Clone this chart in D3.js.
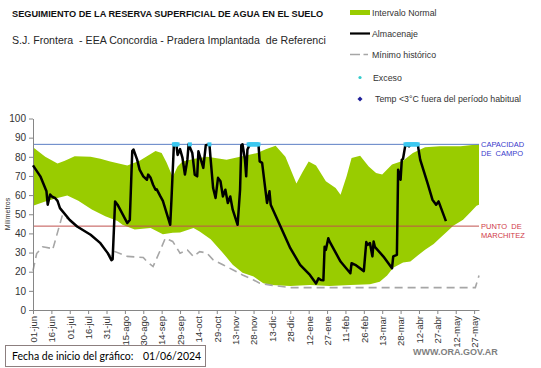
<!DOCTYPE html>
<html>
<head>
<meta charset="utf-8">
<script src="https://cdn.jsdelivr.net/npm/d3@7"></script>
<style>
  body { margin: 0; background: #fff; }
  svg { display: block; font-family: "Liberation Sans", Arial, sans-serif; }
  .axis path, .axis line { stroke: #868686; }
  .axis text { fill: #333; font-family: "Liberation Sans", Arial, sans-serif; }
  text { white-space: pre; }
</style>
</head>
<body>
<svg id="chart"></svg>
<script>
// x axis labels, one every 15 days starting 01/06/2024
const xTickLabels = ['01-jun','16-jun','01-jul','16-jul','31-jul','15-ago','30-ago','14-sep','29-sep',
  '14-oct','29-oct','13-nov','28-nov','13-dic','28-dic','12-ene','27-ene','11-feb','26-feb',
  '13-mar','28-mar','12-abr','27-abr','12-may','27-may'];
const yTicks = [0, 10, 20, 30, 40, 50, 60, 70, 80, 90, 100];

// soil water storage (mm) - days since 01-jun
const almDays = [0, 6, 11, 12, 14, 16, 18, 20, 22, 30, 36, 47, 55, 61, 64, 65, 67, 69, 77, 79, 81, 82, 85, 87, 90, 93, 94, 96,
  98, 100, 101, 104, 106, 112, 113, 115, 117, 118, 120, 122, 124, 126, 127, 130, 132, 134, 135, 137, 139, 141, 144,
  145, 147, 149, 151, 153, 155, 157, 159, 161, 163, 167, 169, 170, 171, 173, 174, 175, 177, 184, 185, 187, 189, 191,
  193, 194, 202, 210, 218, 226, 231, 233, 235, 237, 238, 239, 241, 242, 251, 259, 260, 263, 270, 272, 273, 275, 277,
  278, 279, 286, 293, 294, 297, 298, 300, 301, 302, 304, 307, 308, 314, 316, 322, 326, 329, 331, 337];
const almVals = [75.5, 69.8, 62, 55, 60.3, 59, 58.5, 57, 53.2, 47, 43.6, 39.3, 34.9, 29.7, 26, 26.5, 56.7, 55, 45.4, 47, 83,
  83.8, 78.5, 73.3, 69.8, 68, 70.7, 69, 65.4, 62.8, 63, 59.3, 57, 44.5, 57.6, 86.5, 86.5, 81, 84, 79.4, 70.7, 78.5,
  86.5, 82, 70.7, 69.8, 82.9, 78.5, 74.2, 86, 86.5, 78.5, 63.7, 58.5, 69, 67.2, 59.3, 62.8, 55.9, 59.3, 52.4, 44.5,
  62.8, 86, 86.5, 78.5, 69.8, 83.8, 86.5, 86.5, 77.6, 76.8, 66.3, 55.9, 62, 55, 43.6, 32.3, 23.6, 18.3, 13.8, 16.5,
  15.7, 15.5, 33, 31.4, 37.5, 35.8, 25.3, 19.2, 24.4, 23.6, 20.3, 35.5, 34, 35, 28, 35.8, 33, 27.9, 21.8, 28, 28.8,
  73.3, 68, 78.5, 79, 86.5, 85.5, 86.5, 86.5, 78.5, 66.3, 57.6, 55, 56.7, 46.4];

// normal interval, upper edge
const normHiDays = [0, 10, 20, 26, 34, 47, 55, 63, 77, 87, 100, 105, 109, 114, 118, 122, 132, 142, 158, 169, 183, 190,
  198, 206, 215, 220, 225, 231, 239, 247, 251, 256, 260, 267, 274, 280, 285, 293, 302, 310, 320, 332, 349, 364];
const normHiVals = [85, 80, 76.5, 78, 80.3, 80, 79, 77.5, 75.5, 78, 83, 82, 77, 69.5, 75, 77.6, 79, 80, 78.5, 80, 82, 84,
  85.8, 80, 66, 72, 77.6, 75.5, 67.2, 63.7, 60.2, 70, 79.4, 80.5, 75, 71.6, 70.7, 76, 78, 82, 85, 85.5, 85.5, 86.5];

// normal interval, lower edge
const normLoDays = [0, 10, 20, 28, 37, 48, 59, 69, 73, 83, 96, 106, 114, 120, 131, 136, 145, 155, 163, 171, 180, 184,
  188, 194, 210, 226, 242, 259, 275, 283, 289, 294, 302, 308, 314, 320, 327, 332, 338, 343, 351, 357, 362, 364];
const normLoVals = [54.5, 56.7, 58.5, 59.8, 57, 52.5, 49, 46.5, 44.5, 42, 42.8, 39.5, 40.4, 40.5, 42.8, 41, 37, 29.8,
  23.6, 19.5, 17.5, 15.7, 14, 13, 12.5, 13, 12.5, 13, 13.5, 14.8, 18, 22, 24.8, 25.3, 28.5, 31.4, 34.5, 37.5, 41, 44,
  47.1, 51, 54.5, 55];

// historical minimum
const minDays = [0, 3, 8, 14, 16, 24, 30, 36, 47, 55, 61, 64, 67, 77, 90, 93, 98, 104, 108, 114, 120, 126, 131, 136,
  142, 147, 155, 163, 171, 180, 185, 194, 210, 361, 364];
const minVals = [20.5, 29.5, 33, 32.3, 31.4, 49.5, 47, 43.6, 39.3, 34.9, 29.7, 28, 30.5, 28, 27.4, 25.3, 22.7, 31.4,
  37.5, 35.8, 29.7, 31.4, 27.9, 30.5, 29.7, 26.2, 23.6, 21, 18.3, 15.7, 14, 13, 11.7, 11.7, 18];

// days with excess water
const excesoDays = [115, 116, 117, 118, 128, 144, 176, 177, 178, 179, 180, 181, 182, 183, 184,
  304, 305, 306, 307, 308, 309, 310, 311, 312, 313, 314];

const capacidadCampo = 86.5;
const puntoMarchitez = 43.8;

class ReservaChart {

  /**
   * Basic config for the chart
   */
  constructor(_config) {
    this.config = {
      parentElement: _config.parentElement,
      containerWidth: _config.containerWidth || 541,
      containerHeight: _config.containerHeight || 368,
      margin: _config.margin || {top: 118.5, right: 62, bottom: 58, left: 33}
    };
    this.initVis();
  }

  initVis() {
    let vis = this;
    const m = vis.config.margin;
    vis.width = vis.config.containerWidth - m.left - m.right;
    vis.height = vis.config.containerHeight - m.top - m.bottom;

    vis.xScale = d3.scaleLinear().domain([0, 364]).range([0, vis.width]);
    vis.yScale = d3.scaleLinear().domain([0, 100]).range([vis.height, 0]);

    vis.xAxis = d3.axisBottom(vis.xScale)
        .tickValues(xTickLabels.map((_, i) => i * 15))
        .tickFormat((d, i) => xTickLabels[i])
        .tickSize(4)
        .tickSizeOuter(0);

    vis.yAxis = d3.axisLeft(vis.yScale)
        .tickValues(yTicks)
        .tickSize(4)
        .tickPadding(3)
        .tickSizeOuter(0);

    vis.svg = d3.select(vis.config.parentElement)
        .attr('width', vis.config.containerWidth)
        .attr('height', vis.config.containerHeight);

    vis.chart = vis.svg.append('g')
        .attr('transform', `translate(${m.left},${m.top})`);
  }

  renderVis() {
    let vis = this;
    const x = vis.xScale, y = vis.yScale;

    // normal interval band: upper edge forward, lower edge back
    const band = normHiDays.map((d, i) => [d, normHiVals[i]])
        .concat(normLoDays.map((d, i) => [d, normLoVals[i]]).reverse());
    vis.chart.append('path')
        .attr('d', d3.line().x(d => x(d[0])).y(d => y(d[1]))(band) + 'Z')
        .attr('fill', '#99cc00');

    // historical minimum
    vis.chart.append('path')
        .datum(minDays.map((d, i) => [d, minVals[i]]))
        .attr('d', d3.line().x(d => x(d[0])).y(d => y(d[1])))
        .attr('fill', 'none')
        .attr('stroke', '#a6a6a6')
        .attr('stroke-width', 1.6)
        .attr('stroke-dasharray', '8,5');

    // reference lines
    vis.chart.append('line')
        .attr('x1', 0).attr('x2', vis.width)
        .attr('y1', y(capacidadCampo)).attr('y2', y(capacidadCampo))
        .attr('stroke', '#5b7fc4').attr('stroke-width', 1);
    vis.chart.append('line')
        .attr('x1', 0).attr('x2', vis.width)
        .attr('y1', y(puntoMarchitez)).attr('y2', y(puntoMarchitez))
        .attr('stroke', '#c0504d').attr('stroke-width', 1);

    // axes
    vis.chart.append('g')
        .attr('class', 'axis x-axis')
        .attr('transform', `translate(0,${vis.height})`)
        .call(vis.xAxis)
        .selectAll('text')
          .attr('transform', 'rotate(-90)')
          .attr('text-anchor', 'end')
          .attr('x', -6)
          .attr('y', 0)
          .attr('dy', '0.35em')
          .style('font-size', '9.5px');

    vis.chart.append('g')
        .attr('class', 'axis y-axis')
        .call(vis.yAxis)
        .selectAll('text')
          .style('font-size', '10px');

    // storage line
    vis.chart.append('path')
        .datum(almDays.map((d, i) => [d, almVals[i]]))
        .attr('d', d3.line().x(d => x(d[0])).y(d => y(d[1])))
        .attr('fill', 'none')
        .attr('stroke', '#000')
        .attr('stroke-width', 2.5)
        .attr('stroke-linejoin', 'round');

    // excess markers
    vis.chart.selectAll('.exceso')
        .data(excesoDays)
        .join('rect')
        .attr('class', 'exceso')
        .attr('x', d => x(d) - 2)
        .attr('y', y(capacidadCampo) - 2)
        .attr('width', 4)
        .attr('height', 4)
        .attr('fill', '#3cc8f0');

    // line labels on the right
    const lx = vis.width + 2;
    const cap = vis.chart.append('text')
        .attr('x', lx).attr('y', y(capacidadCampo) + 3)
        .attr('fill', '#3a3acb')
        .style('font-size', '7.5px');
    cap.append('tspan').attr('x', lx).text('CAPACIDAD');
    cap.append('tspan').attr('x', lx).attr('dy', 9).text('DE  CAMPO');

    const pm = vis.chart.append('text')
        .attr('x', lx).attr('y', y(puntoMarchitez) + 3)
        .attr('fill', '#d03a48')
        .style('font-size', '7.5px');
    pm.append('tspan').attr('x', lx).text('PUNTO  DE');
    pm.append('tspan').attr('x', lx).attr('dy', 9).text('MARCHITEZ');

    // y title
    vis.svg.append('text')
        .attr('transform', 'translate(10,214) rotate(-90)')
        .attr('text-anchor', 'middle')
        .attr('fill', '#333')
        .style('font-size', '7px')
        .text('Milímetros');
  }
}

const chart = new ReservaChart({parentElement: '#chart'});
chart.renderVis();

// titles
const svg = d3.select('#chart');
svg.append('text')
    .attr('x', 12).attr('y', 17)
    .attr('fill', '#111')
    .style('font-size', '9.2px')
    .style('font-weight', 'bold')
    .text('SEGUIMIENTO DE LA RESERVA SUPERFICIAL DE AGUA EN EL SUELO');
svg.append('text')
    .attr('x', 12).attr('y', 44)
    .attr('fill', '#262626')
    .style('font-size', '10.6px')
    .text('S.J. Frontera  - EEA Concordia - Pradera Implantada  de Referenci');

// legend
const legend = svg.append('g').style('font-size', '8.8px').attr('fill', '#333');
legend.append('rect').attr('x', 350).attr('y', 10).attr('width', 20).attr('height', 5).attr('fill', '#99cc00');
legend.append('text').attr('x', 372).attr('y', 15.5).text('Intervalo Normal');
legend.append('line').attr('x1', 350).attr('x2', 370).attr('y1', 33.5).attr('y2', 33.5)
    .attr('stroke', '#000').attr('stroke-width', 2.2);
legend.append('text').attr('x', 372).attr('y', 36.5).text('Almacenaje');
legend.append('line').attr('x1', 350).attr('x2', 368).attr('y1', 54.5).attr('y2', 54.5)
    .attr('stroke', '#a6a6a6').attr('stroke-width', 1.5).attr('stroke-dasharray', '10,3.5,5');
legend.append('text').attr('x', 372).attr('y', 57.5).text('Mínimo histórico');
legend.append('circle').attr('cx', 360).attr('cy', 77.5).attr('r', 1.6).attr('fill', '#33cccc');
legend.append('text').attr('x', 373).attr('y', 80.5).text('Exceso');
legend.append('rect').attr('x', -1.8).attr('y', -1.8).attr('width', 3.6).attr('height', 3.6)
    .attr('transform', 'translate(360,99) rotate(45)')
    .attr('fill', '#1f1f99');
legend.append('text').attr('x', 375).attr('y', 102).text('Temp <3°C fuera del período habitual');

// start date box
svg.append('rect')
    .attr('x', 5.5).attr('y', 345.5).attr('width', 200).attr('height', 21)
    .attr('fill', '#fff').attr('stroke', '#8c7f7f').attr('stroke-width', 1);
const fecha = svg.append('g')
    .attr('fill', '#000')
    .style('font-family', 'Lato, "Open Sans", sans-serif')
    .style('font-size', '10.5px');
fecha.append('text').attr('x', 12).attr('y', 360).text('Fecha de inicio del gráfico:');
fecha.append('text').attr('x', 143).attr('y', 360).text('01/06/2024');

svg.append('text')
    .attr('x', 413).attr('y', 355)
    .attr('fill', '#808080')
    .style('font-size', '9px')
    .style('font-weight', 'bold')
    .text('WWW.ORA.GOV.AR');
</script>
</body>
</html>
